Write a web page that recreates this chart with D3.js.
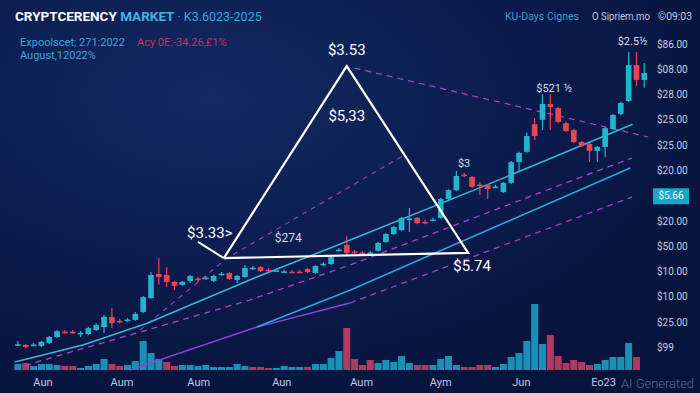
<!DOCTYPE html>
<html>
<head>
<meta charset="utf-8">
<script src="https://cdn.jsdelivr.net/npm/d3@7"></script>
<style>
html, body { margin: 0; padding: 0; background: #0a1946; }
svg { display: block; font-family: Roboto, "Open Sans", sans-serif; }
</style>
</head>
<body>
<svg></svg>
<script>
'use strict';

// candles: [open, close, high, low]
var candles = [
    [7.4, 7.8, 8.8, 7.4], [7.6, 7.0, 7.9, 6.6], [7.5, 7.7, 8.2, 7.2], [7.3, 8.5, 8.8, 7.0], [8.2, 10.0, 10.3, 7.9],
    [10.0, 11.8, 12.1, 9.7], [11.6, 11.3, 12.1, 11.0], [11.6, 11.3, 12.1, 11.0], [11.1, 11.3, 11.8, 10.0], [10.9, 12.7, 13.0, 10.6],
    [12.1, 13.6, 14.2, 11.8], [13.0, 16.1, 16.7, 11.2], [16.1, 14.2, 18.8, 12.7], [14.9, 14.7, 15.5, 14.2], [15.0, 15.3, 15.8, 14.6],
    [15.2, 17.0, 17.6, 14.9], [17.6, 22.1, 22.4, 17.3], [21.8, 28.8, 29.7, 21.5], [29.1, 28.2, 33.9, 25.8], [28.8, 26.7, 31.2, 25.2],
    [26.7, 25.5, 27.0, 24.2], [25.8, 26.7, 27.0, 25.5], [27.0, 28.5, 28.8, 26.4], [27.7, 27.5, 28.2, 26.7], [27.8, 28.0, 28.5, 27.3],
    [27.0, 28.5, 28.8, 26.7], [29.0, 29.2, 29.7, 28.5], [29.4, 27.6, 29.7, 27.3], [27.3, 28.5, 28.8, 26.4], [28.2, 30.9, 31.8, 27.9],
    [30.8, 31.0, 31.5, 30.3], [31.2, 30.0, 31.5, 29.7], [30.4, 30.2, 30.9, 29.7], [30.0, 30.2, 30.6, 29.7], [29.7, 29.9, 30.3, 29.4],
    [29.8, 29.6, 30.3, 29.4], [29.8, 29.6, 30.3, 29.4], [30.6, 29.7, 30.9, 29.4], [29.4, 31.5, 31.8, 29.1], [32.0, 32.2, 32.7, 31.5],
    [32.1, 34.2, 34.5, 31.8], [36.3, 36.5, 37.0, 35.8], [37.9, 35.5, 40.6, 34.8], [35.9, 35.7, 36.4, 35.2], [35.6, 35.4, 36.1, 34.8],
    [35.4, 35.6, 36.1, 35.2], [36.1, 38.5, 38.8, 35.8], [38.8, 41.2, 41.5, 38.5], [41.2, 43.3, 43.6, 40.9], [42.4, 46.1, 46.4, 42.1],
    [45.7, 45.9, 49.1, 41.8], [46.1, 44.5, 46.4, 44.2], [44.9, 44.7, 45.5, 44.2], [45.4, 45.6, 46.1, 45.2], [46.1, 51.8, 52.1, 45.8],
    [51.8, 54.5, 54.8, 51.5], [54.5, 58.8, 60.3, 54.2], [59.2, 59.0, 59.7, 58.5], [58.5, 55.5, 58.8, 55.2], [56.2, 56.0, 57.0, 53.0],
    [56.1, 54.8, 56.4, 51.8], [55.4, 55.6, 56.1, 55.2], [53.9, 56.7, 57.0, 53.6], [56.7, 63.0, 63.3, 56.4], [63.0, 65.8, 66.1, 60.0],
    [66.1, 70.9, 72.0, 65.8], [74.5, 70.9, 76.4, 69.7], [75.8, 80.6, 83.6, 72.7], [80.6, 79.7, 83.6, 72.7], [79.4, 75.2, 79.7, 74.8],
    [74.8, 72.4, 75.2, 72.1], [72.7, 69.1, 73.0, 68.8], [69.1, 67.9, 69.4, 67.6], [68.5, 66.4, 68.8, 63.0], [66.4, 67.6, 67.9, 63.0],
    [67.6, 73.3, 73.6, 64.5], [73.0, 77.3, 77.6, 72.7], [77.6, 80.9, 81.2, 77.3], [81.5, 92.4, 96.4, 81.2], [92.4, 87.9, 96.4, 86.1],
    [87.9, 90.0, 93.0, 85.5]
];

var volumes = [
    6, 7, 4, 6, 6, 5, 4, 4, 2, 4,
    6, 11, 6, 4, 5, 9, 29, 17, 11, 8,
    4, 5, 5, 4, 5, 3, 3, 3, 6, 4,
    3, 3, 2, 2, 4, 3, 3, 3, 6, 6,
    12, 19, 42, 11, 5, 10, 7, 10, 8, 14,
    7, 5, 5, 5, 11, 14, 5, 3, 3, 5,
    5, 3, 6, 13, 17, 29, 66, 26, 35, 14,
    7, 10, 8, 5, 6, 10, 13, 13, 27, 13
];
var volumeSide = ('c r c c c c r r c c c c r r c c c c c r r c c c c c c c c c ' +
    'r r r c c c c r c c c c r r r r c c c c c r r c c c c r r r ' +
    'r c c c c c c c r r r r r r c c c c c r').split(' ');

// overlay lines: [candle index, price]
var maFast = [[-0.4, 2.4], [8.3, 7.6], [16.5, 14.2], [29.6, 27.3], [39.9, 37.0], [59.9, 56.1], [78.5, 74.5]];
var maFastDash = [[0.9, 1.2], [3.2, 3.0], [15.6, 11.5], [29.6, 21.2], [42.4, 31.8], [74.3, 60.6], [78.4, 64.2]];
var maSlow = [[30.5, 13.0], [42.4, 24.2], [78.2, 61.2]];
var maSlowSolid = [[14.3, 0.0], [30.5, 13.0], [42.4, 20.3]];
var maSlowDash = [[42.4, 20.3], [78.4, 52.4]];
var steepDash = [[15.6, 12.1], [26.7, 33.9], [49.1, 64.8]];
var fallDash = [[43.0, 91.5], [80.5, 70.6]];
var triangle = [[26.3, 33.9], [42.0, 92.1], [57.5, 35.5], [26.3, 33.9]];
var pointer = [[23.0, 38.8], [26.3, 33.9]];

var yLabels = ['$86.00', '$08.00', '$28.00', '$25.00', '$25.00', '$20.00', '$5.66', '$20.00', '$50.00', '$10.00', '$10.00', '$25.00', '$99'];
var currentIdx = 6;
var xLabels = ['Aun', 'Aum', 'Aum', 'Aun', 'Aum', 'Aym', 'Jun', 'Eo23'];
var xLabelIdx = [3.2, 13.3, 23.1, 33.7, 43.9, 54.0, 64.3, 74.8];

var notes = [
    { t: '$3.53', i: 42.0, p: 95.5, size: 15, anchor: 'middle' },
    { t: '$5,33', i: 42.0, p: 75.5, size: 15, anchor: 'middle' },
    { t: '$3.33>', i: 21.6, p: 40.0, size: 15, anchor: 'start' },
    { t: '$274', i: 32.8, p: 38.8, size: 12, anchor: 'start' },
    { t: '$5.74', i: 55.6, p: 30.0, size: 15, anchor: 'start' },
    { t: '$3', i: 56.2, p: 61.5, size: 11, anchor: 'start' },
    { t: '$521 ½', i: 66.2, p: 84.2, size: 11, anchor: 'start' },
    { t: '$2.5½', i: 76.6, p: 98.5, size: 11, anchor: 'start' }
];

function render() {
    var w = 700;
    var h = 393;
    var d3 = window.d3;

    var svg = d3.select('svg').attr('width', w).attr('height', h);

    var defs = svg.append('defs');
    var bg = defs.append('radialGradient').attr('id', 'bg')
        .attr('cx', '30%').attr('cy', '25%').attr('r', '85%');
    bg.append('stop').attr('offset', '0%').attr('stop-color', '#132a62');
    bg.append('stop').attr('offset', '55%').attr('stop-color', '#0b1b4c');
    bg.append('stop').attr('offset', '100%').attr('stop-color', '#07133b');
    svg.append('rect').attr('width', w).attr('height', h).attr('fill', 'url(#bg)');

    var x = d3.scaleLinear().domain([0, candles.length - 1]).range([17.9, 644.3]);
    var step = x(1) - x(0);
    var y = d3.scaleLinear().domain([0, 100]).range([370, 40]);
    var yVol = d3.scaleLinear().domain([0, 70]).range([370, 300]);

    // volume
    svg.append('g').selectAll('rect').data(volumes).enter().append('rect')
        .attr('x', function (d, i) { return x(i) - step * 0.45; })
        .attr('width', step * 0.9)
        .attr('y', function (d) { return yVol(d); })
        .attr('height', function (d) { return yVol(0) - yVol(d); })
        .attr('fill', function (d, i) { return volumeSide[i] === 'r' ? '#b03862' : '#1b8fb6'; });

    var line = d3.line()
        .x(function (d) { return x(d[0]); })
        .y(function (d) { return y(d[1]); });

    var g = svg.append('g').attr('fill', 'none');
    g.append('path').attr('d', line(maSlowSolid)).attr('stroke', '#8b48d6').attr('stroke-width', 1.4);
    g.append('path').attr('d', line(maSlowDash)).attr('stroke', '#a23fcc').attr('stroke-width', 1.3).attr('stroke-dasharray', '6,5');
    g.append('path').attr('d', line(maFastDash)).attr('stroke', '#b043cc').attr('stroke-width', 1.3).attr('stroke-dasharray', '6,5');
    g.append('path').attr('d', line(steepDash)).attr('stroke', '#a640c8').attr('stroke-width', 1.1).attr('stroke-dasharray', '5,5');
    g.append('path').attr('d', line(fallDash)).attr('stroke', '#b043cc').attr('stroke-width', 1.2).attr('stroke-dasharray', '6,5');
    g.append('path').attr('d', line(maSlow)).attr('stroke', '#2ba7da').attr('stroke-width', 1.6);
    g.append('path').attr('d', line(maFast)).attr('stroke', '#3cb4d6').attr('stroke-width', 1.6);

    // candles
    var c = svg.append('g').selectAll('g').data(candles).enter().append('g')
        .attr('fill', function (d) { return d[1] >= d[0] ? '#22b6cc' : '#e5464f'; })
        .attr('stroke', function (d) { return d[1] >= d[0] ? '#22b6cc' : '#e5464f'; });
    c.append('line')
        .attr('x1', function (d, i) { return x(i); })
        .attr('x2', function (d, i) { return x(i); })
        .attr('y1', function (d) { return y(d[2]); })
        .attr('y2', function (d) { return y(d[3]); })
        .attr('stroke-width', 1.2);
    c.append('rect')
        .attr('stroke', 'none')
        .attr('x', function (d, i) { return x(i) - step * 0.36; })
        .attr('width', step * 0.72)
        .attr('y', function (d) { return y(Math.max(d[0], d[1])); })
        .attr('height', function (d) { return Math.max(Math.abs(y(d[0]) - y(d[1])), 1.6); });

    // triangle pattern
    g = svg.append('g').attr('fill', 'none').attr('stroke', '#ffffff').attr('stroke-width', 2.2);
    g.append('path').attr('d', line(triangle)).attr('stroke-linejoin', 'miter');
    g.append('path').attr('d', line(pointer)).attr('stroke-width', 2);

    svg.append('g').selectAll('text').data(notes).enter().append('text')
        .attr('x', function (d) { return x(d.i); })
        .attr('y', function (d) { return y(d.p); })
        .attr('text-anchor', function (d) { return d.anchor; })
        .attr('font-size', function (d) { return d.size; })
        .attr('fill', function (d) { return d.size < 13 ? '#d7dcea' : '#ffffff'; })
        .text(function (d) { return d.t; });

    // right price labels
    var yl = d3.scaleLinear().domain([0, yLabels.length - 1]).range([47.5, 351]);
    svg.append('rect').attr('x', 653).attr('y', yl(currentIdx) - 11).attr('width', 36).attr('height', 16)
        .attr('fill', '#18a6c9');
    svg.append('g').selectAll('text').data(yLabels).enter().append('text')
        .attr('x', function (d, i) { return i === currentIdx ? 671 : 657; })
        .attr('y', function (d, i) { return yl(i); })
        .attr('text-anchor', function (d, i) { return i === currentIdx ? 'middle' : 'start'; })
        .attr('font-size', 10)
        .attr('fill', function (d, i) { return i === currentIdx ? '#ffffff' : '#c4cde0'; })
        .text(function (d) { return d; });

    // bottom labels
    svg.append('g').selectAll('text').data(xLabels).enter().append('text')
        .attr('x', function (d, i) { return x(xLabelIdx[i]); })
        .attr('y', 386)
        .attr('text-anchor', 'middle')
        .attr('font-size', 11)
        .attr('fill', '#bfcae0')
        .text(function (d) { return d; });

    svg.append('text').attr('x', 621).attr('y', 388)
        .attr('font-size', 12.5).attr('font-weight', 300).attr('fill', '#5e6d93')
        .attr('textLength', 73).attr('lengthAdjust', 'spacingAndGlyphs')
        .text('AI Generated');

    // header
    var title = svg.append('text').attr('x', 15).attr('y', 21).attr('font-size', 13.5).attr('font-weight', 'bold');
    title.append('tspan').attr('fill', '#ffffff').text('CRYPTCERENCY ');
    title.append('tspan').attr('fill', '#3db7e2').text('MARKET ');
    title.append('tspan').attr('fill', '#38a9dc').attr('font-weight', 'normal').attr('font-size', 12.5).text('· K3.6023-2025');

    svg.append('text').attr('x', 20).attr('y', 46).attr('font-size', 11).attr('fill', '#3ea6d6').text('Expoolscet; 271:2022');
    svg.append('text').attr('x', 137).attr('y', 46).attr('font-size', 11).attr('fill', '#c9305d')
        .text('Acy 0E:-34.26,£1%');
    svg.append('text').attr('x', 20).attr('y', 59).attr('font-size', 11).attr('fill', '#3ea6d6').text('August,12022%');

    svg.append('text').attr('x', 505).attr('y', 20).attr('font-size', 11).attr('fill', '#2fa0cc')
        .attr('textLength', 74).attr('lengthAdjust', 'spacingAndGlyphs').text('KU-Days Cignes');
    svg.append('text').attr('x', 592).attr('y', 20).attr('font-size', 11).attr('fill', '#c2cadb')
        .attr('textLength', 58).attr('lengthAdjust', 'spacingAndGlyphs').text('O Sipriem.mo');
    svg.append('text').attr('x', 658).attr('y', 20).attr('font-size', 11).attr('fill', '#c2cadb')
        .attr('textLength', 34).attr('lengthAdjust', 'spacingAndGlyphs').text('©09:03');
}

render();
</script>
</body>
</html>
